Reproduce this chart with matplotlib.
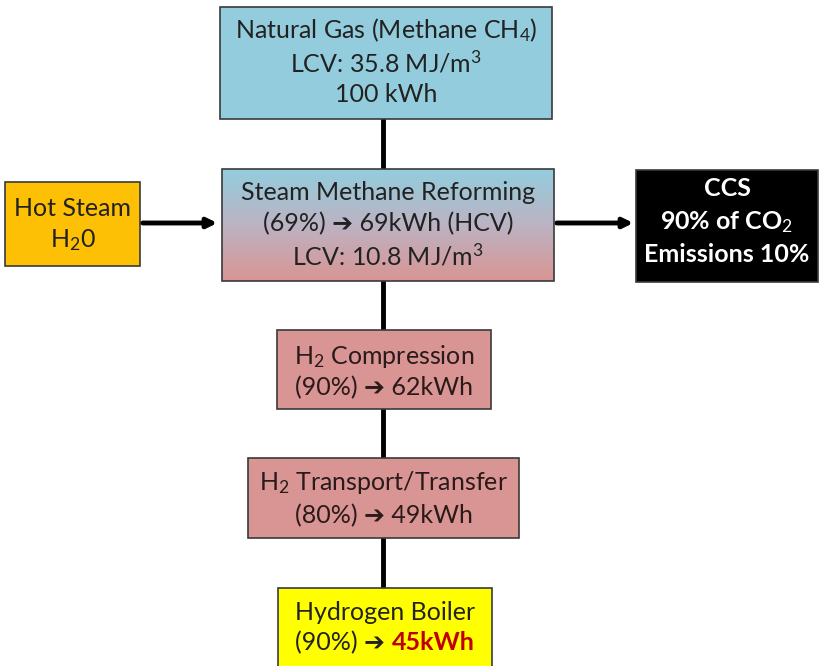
import matplotlib
matplotlib.use('Agg')
import matplotlib.pyplot as plt
import numpy as np
from matplotlib.patches import Rectangle
from matplotlib.colors import LinearSegmentedColormap

plt.rcParams['font.family'] = ['Lato', 'DejaVu Sans']
plt.rcParams['mathtext.fontset'] = 'custom'
plt.rcParams['mathtext.rm'] = 'Lato'
plt.rcParams['mathtext.it'] = 'Lato'
plt.rcParams['mathtext.bf'] = 'Lato:bold'

# boxes of the flow chart
names = ['gas', 'smr', 'steam', 'ccs', 'comp', 'trans', 'boiler']
texts = [
    ['Natural Gas (Methane CH$_4$)', 'LCV: 35.8 MJ/m$^3$', '100 kWh'],
    ['Steam Methane Reforming', '(69%) \u2794 69kWh (HCV)', 'LCV: 10.8 MJ/m$^3$'],
    ['Hot Steam', 'H$_2$0'],
    ['CCS', '90% of CO$_2$', 'Emissions 10%'],
    ['H$_2$ Compression', '(90%) \u2794 62kWh'],
    ['H$_2$ Transport/Transfer', '(80%) \u2794 49kWh'],
    ['Hydrogen Boiler', '(90%) \u2794 '],
]
final_value = '45kWh'
colors = ['#93cddd', None, '#fdc004', '#000000', '#d99594', '#d99594', '#ffff00']
text_colors = ['#222222', '#222222', '#222222', 'white', '#2a1a1a', '#2a1a1a', '#222222']

# layout in pixels (x0, y0, x1, y1)
boxes = {
    'gas': (220, 7, 552, 119),
    'smr': (222, 169, 554, 281),
    'steam': (5, 182, 140, 266),
    'ccs': (636, 170, 818, 282),
    'comp': (277, 330, 491, 409),
    'trans': (248, 458, 519, 538),
    'boiler': (278, 588, 492, 680),
}
line_y = {
    'gas': [30, 63, 95],
    'smr': [192, 224, 256],
    'steam': [209, 240],
    'ccs': [189, 222, 255],
    'comp': [356, 388],
    'trans': [483, 516],
    'boiler': [613, 643],
}
fs = 18

fig = plt.figure(figsize=(8.2, 6.66), dpi=100)
ax = fig.add_axes([0, 0, 1, 1])
ax.set_xlim(0, 820)
ax.set_ylim(666, 0)
ax.axis('off')

cx = 383
# connectors
ax.plot([cx, cx], [119, 169], color='black', lw=3.5, zorder=1)
ax.plot([cx, cx], [281, 330], color='black', lw=3.5, zorder=1)
ax.plot([cx, cx], [409, 458], color='black', lw=3.5, zorder=1)
ax.plot([cx, cx], [538, 588], color='black', lw=3.5, zorder=1)
ax.annotate('', xy=(220, 223), xytext=(140, 223),
            arrowprops=dict(arrowstyle='-|>', color='black', lw=3.5, mutation_scale=14))
ax.annotate('', xy=(636, 223), xytext=(554, 223),
            arrowprops=dict(arrowstyle='-|>', color='black', lw=3.5, mutation_scale=14))

for name, lines, fc, tc in zip(names, texts, colors, text_colors):
    x0, y0, x1, y1 = boxes[name]
    if fc is None:
        grad = np.linspace(0, 1, 100).reshape(-1, 1)
        cmap = LinearSegmentedColormap.from_list('g', ['#93cddd', '#bcb3c3', '#d99594'])
        ax.imshow(grad, extent=(x0, x1, y1, y0), cmap=cmap, aspect='auto', zorder=2)
        ax.add_patch(Rectangle((x0, y0), x1 - x0, y1 - y0, fill=False,
                               ec='#3a3a3a', lw=1.2, zorder=3))
    else:
        ax.add_patch(Rectangle((x0, y0), x1 - x0, y1 - y0, fc=fc,
                               ec='#3a3a3a', lw=1.2, zorder=2))
    bold = name == 'ccs'
    for t, y in zip(lines, line_y[name]):
        if name == 'boiler' and t.startswith('(90%)'):
            continue
        ax.text((x0 + x1) / 2, y, t, ha='center', va='center', fontsize=fs,
                color=tc, fontweight='bold' if bold else 'normal', zorder=4)

# last line: black prefix + red bold value, centred together
x0, y0, x1, y1 = boxes['boiler']
fig.canvas.draw()
r = fig.canvas.get_renderer()
t1 = ax.text(0, line_y['boiler'][1], texts[6][1], ha='left', va='center',
             fontsize=fs, color='#222222', zorder=4)
t2 = ax.text(0, line_y['boiler'][1], final_value, ha='left', va='center',
             fontsize=fs, color='#c00000', fontweight='bold', zorder=4)
w1 = t1.get_window_extent(r).width
w2 = t2.get_window_extent(r).width
start = (x0 + x1) / 2 - (w1 + w2) / 2
t1.set_x(start)
t2.set_x(start + w1)

fig.savefig('out.png', dpi=100)
